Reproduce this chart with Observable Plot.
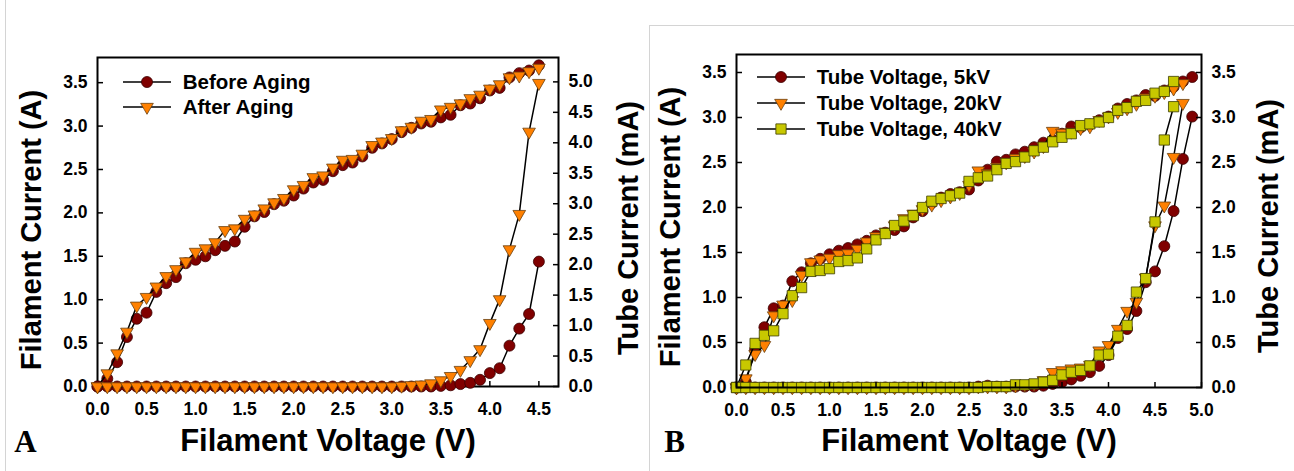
<!DOCTYPE html>
<html>
<head>
<meta charset="utf-8">
<script src="https://cdn.jsdelivr.net/npm/d3@7"></script>
<script src="https://cdn.jsdelivr.net/npm/@observablehq/plot@0.6"></script>
<style>
  html, body { margin: 0; padding: 0; background: #fff; }
  #root { position: relative; width: 1294px; height: 471px; overflow: hidden; background: #fff; }
  .layer { position: absolute; top: 0; }
  .legend-row { position: absolute; display: flex; align-items: center; font-family: "Liberation Sans", Arial, sans-serif; font-weight: bold; font-size: 20.5px; color: #000; white-space: nowrap; }
  .legend-row svg { display: block; }
</style>
</head>
<body>
<div id="root"></div>
<script>
// ---------------- DATA ----------------
// Panel A: filament voltage (V)
const voltageA = [0.0,0.1,0.2,0.3,0.4,0.5,0.6,0.7,0.8,0.9,1.0,1.1,1.2,1.3,1.4,1.5,1.6,1.7,1.8,1.9,
                  2.0,2.1,2.2,2.3,2.4,2.5,2.6,2.7,2.8,2.9,3.0,3.1,3.2,3.3,3.4,3.5,3.6,3.7,3.8,3.9,
                  4.0,4.1,4.2,4.3,4.4,4.5];
// Filament current (A)
const filamentBefore = [0,0.09,0.28,0.57,0.78,0.85,1.09,1.19,1.26,1.42,1.46,1.50,1.57,1.62,1.67,1.84,1.96,2.01,2.10,2.14,
                        2.20,2.28,2.35,2.38,2.48,2.55,2.58,2.65,2.75,2.80,2.85,2.93,2.98,3.03,3.05,3.10,3.13,3.24,3.26,3.32,
                        3.41,3.44,3.56,3.61,3.64,3.70];
const filamentAfter  = [0,0.15,0.38,0.63,0.93,1.03,1.15,1.27,1.35,1.44,1.55,1.59,1.66,1.80,1.82,1.93,1.98,2.05,2.12,2.17,
                        2.27,2.32,2.41,2.43,2.52,2.61,2.62,2.68,2.78,2.82,2.86,2.95,2.99,3.06,3.08,3.19,3.22,3.26,3.32,3.36,
                        3.43,3.48,3.56,3.58,3.63,3.67];
// Tube current (mA)
const tubeBefore = [0,0,0,0,0,0,0,0,0,0,0,0,0,0,0,0,0,0,0,0,
                    0,0,0,0,0,0,0,0,0,0,0,0,0,0,0,0.01,0.02,0.04,0.06,0.11,
                    0.22,0.30,0.67,0.95,1.19,2.05];
const tubeAfter  = [0,0,0,0,0,0,0,0,0,0,0,0,0,0,0,0,0,0,0,0,
                    0,0,0,0,0,0,0,0,0,0,0,0.01,0.02,0.03,0.05,0.10,0.17,0.27,0.43,0.61,
                    1.04,1.43,2.25,2.83,4.18,4.98];

// Panel B: filament voltage (V)
const voltageB = [0.0,0.1,0.2,0.3,0.4,0.5,0.6,0.7,0.8,0.9,1.0,1.1,1.2,1.3,1.4,1.5,1.6,1.7,1.8,1.9,
                  2.0,2.1,2.2,2.3,2.4,2.5,2.6,2.7,2.8,2.9,3.0,3.1,3.2,3.3,3.4,3.5,3.6,3.7,3.8,3.9,
                  4.0,4.1,4.2,4.3,4.4,4.5,4.6,4.7,4.8,4.9];
const filament5kV  = [0,0.06,0.42,0.67,0.88,0.91,1.18,1.28,1.38,1.43,1.48,1.52,1.55,1.59,1.63,1.69,1.72,1.75,1.79,1.89,
                      1.96,2.05,2.11,2.15,2.17,2.20,2.30,2.42,2.51,2.53,2.59,2.62,2.67,2.72,2.75,2.82,2.90,2.89,2.92,2.97,
                      3.01,3.10,3.15,3.19,3.25,3.24,3.30,3.34,3.40,3.45];
const filament20kV = [0,0.10,0.37,0.47,0.80,0.92,0.97,1.25,1.39,1.42,1.44,1.48,1.49,1.54,1.62,1.68,1.73,1.80,1.88,1.93,
                      1.98,2.03,2.08,2.12,2.16,2.25,2.41,2.38,2.45,2.50,2.55,2.57,2.62,2.68,2.85,2.83,2.84,2.88,2.90,2.97,
                      3.01,3.06,3.10,3.15,3.22,3.24,3.28,3.32,3.38];
const filament40kV = [0,0.25,0.49,0.58,0.63,0.82,1.02,1.11,1.29,1.30,1.32,1.40,1.41,1.44,1.54,1.64,1.71,1.80,1.85,1.91,
                      2.00,2.07,2.10,2.13,2.16,2.29,2.33,2.35,2.42,2.49,2.51,2.56,2.63,2.67,2.73,2.78,2.82,2.91,2.93,2.95,
                      3.00,3.08,3.11,3.18,3.19,3.27,3.29,3.40];
const tube5kV  = [0,0,0,0,0,0,0,0,0,0,0,0,0,0,0,0,0,0,0,0,
                  0,0,0,0,0,0,0.01,0.02,0.01,0.01,0.01,0.01,0.01,0.02,0.04,0.06,0.09,0.13,0.17,0.24,
                  0.36,0.55,0.65,0.85,1.17,1.29,1.57,1.96,2.54,3.01];
const tube20kV = [0,0,0,0,0,0,0,0,0,0,0,0,0,0,0,0,0,0,0,0,
                  0,0,0,0,0,0,0.01,0.01,0.01,0.01,0.02,0.03,0.04,0.08,0.17,0.19,0.21,0.22,0.25,0.41,
                  0.47,0.65,0.85,0.95,1.22,1.80,2.02,2.56,3.16];
const tube40kV = [0,0,0,0,0,0,0,0,0,0,0,0,0,0,0,0,0,0,0,0,
                  0,0,0,0,0,0,0,0.01,0.01,0.01,0.03,0.03,0.04,0.06,0.08,0.14,0.17,0.19,0.24,0.36,
                  0.37,0.57,0.69,1.06,1.21,1.84,2.75,3.12];

// Tick labels
const xTicksA = [0,0.5,1.0,1.5,2.0,2.5,3.0,3.5,4.0,4.5];
const yTicksLeftA = [0,0.5,1.0,1.5,2.0,2.5,3.0,3.5];
const yTicksRightA = [0,0.5,1.0,1.5,2.0,2.5,3.0,3.5,4.0,4.5,5.0];
const xTicksB = [0,0.5,1.0,1.5,2.0,2.5,3.0,3.5,4.0,4.5,5.0];
const yTicksB = [0,0.5,1.0,1.5,2.0,2.5,3.0,3.5];

// Legend labels
const legendA = ["Before Aging", "After Aging"];
const legendB = ["Tube Voltage, 5kV", "Tube Voltage, 20kV", "Tube Voltage, 40kV"];

// ---------------- STYLE ----------------
const FONT = '"Liberation Sans", Arial, Helvetica, sans-serif';
const SERIF = '"Liberation Serif", "Times New Roman", serif';
const MAROON = "#800000", ORANGE = "#ff8000", OLIVE = "#c8c800";
const triDown = {
  draw(ctx, size) {
    const h = Math.sqrt(size / (3 * Math.sqrt(3)));
    const w = h * Math.sqrt(3);
    ctx.moveTo(0, 2 * h);
    ctx.lineTo(w, -h);
    ctx.lineTo(-w, -h);
    ctx.closePath();
  }
};
const SYM = {
  circle:   {symbol: "circle", r: 5.5, fill: MAROON, stroke: "#3a0000"},
  triangle: {symbol: triDown, r: 4.7, fill: ORANGE, stroke: "#6a4010"},
  square:   {symbol: "square", r: 5.8, fill: OLIVE, stroke: "#3c3c00"}
};
const fmt = d3.format(".1f");
const zip = (xs, ys) => ys.map((y, i) => ({x: xs[i], y}));

function seriesMarks(data, sym) {
  return [
    Plot.line(data, {x: "x", y: "y", stroke: "black", strokeWidth: 1.5}),
    Plot.dot(data, {x: "x", y: "y", symbol: sym.symbol, r: sym.r, fill: sym.fill, stroke: sym.stroke, strokeWidth: 0.8})
  ];
}
const svgStyle = {background: "transparent", fontFamily: FONT, fontSize: "17.5px", fontWeight: "bold", color: "black", overflow: "visible"};
const titleStyle = {fontWeight: "bold", fontFamily: FONT, fill: "black", textAnchor: "middle", lineAnchor: "middle"};

const root = document.getElementById("root");
function place(el, left, top) {
  const wrap = document.createElement("div");
  wrap.className = "layer";
  wrap.style.left = left + "px";
  wrap.style.top = top + "px";
  wrap.appendChild(el);
  root.appendChild(wrap);
  return wrap;
}
function legend(left, items) {
  items.forEach((it) => {
    const row = document.createElement("div");
    row.className = "legend-row";
    row.style.left = left + "px";
    row.style.top = (it.cy - 12) + "px";
    row.style.height = "24px";
    const svg = d3.create("svg").attr("width", 60).attr("height", 24);
    svg.append("line").attr("x1", 0).attr("x2", 48).attr("y1", 12).attr("y2", 12).attr("stroke", "black").attr("stroke-width", 1.5);
    const size = Math.PI * it.sym.r * it.sym.r;
    const type = typeof it.sym.symbol === "string" ? (it.sym.symbol === "circle" ? d3.symbolCircle : d3.symbolSquare) : it.sym.symbol;
    svg.append("path").attr("transform", "translate(24,12)").attr("d", d3.symbol(type, size)())
      .attr("fill", it.sym.fill).attr("stroke", it.sym.stroke).attr("stroke-width", 0.8);
    row.appendChild(svg.node());
    const span = document.createElement("span");
    span.textContent = it.label;
    row.appendChild(span);
    root.appendChild(row);
  });
}

// grey panel borders
(function borders() {
  const a = document.createElement("div");
  Object.assign(a.style, {position: "absolute", left: "5px", top: "0px", width: "1px", height: "471px", background: "#d4d4d4"});
  root.appendChild(a);
  const b = document.createElement("div");
  Object.assign(b.style, {position: "absolute", left: "649px", top: "25px", width: "645px", height: "446px", borderLeft: "1px solid #d4d4d4", borderTop: "1px solid #d4d4d4", boxSizing: "border-box"});
  root.appendChild(b);
})();

// ---------------- PANEL A ----------------
const dimsA = {width: 645, height: 471, marginLeft: 97, marginRight: 87, marginTop: 57, marginBottom: 85};
const xA = {domain: [0, 4.70], label: null, axis: null};

const plotA = Plot.plot({
  ...dimsA,
  x: xA,
  y: {domain: [0, 3.79], label: null, axis: null},
  style: svgStyle,
  marks: [
    ...seriesMarks(zip(voltageA, filamentBefore), SYM.circle),
    ...seriesMarks(zip(voltageA, filamentAfter), SYM.triangle),
    Plot.axisX({ticks: xTicksA, tickFormat: fmt, tickSize: -5, tickPadding: 21, strokeWidth: 1.5, label: null}),
    Plot.axisY({anchor: "left", ticks: yTicksLeftA, tickFormat: fmt, tickSize: -6, tickPadding: 16, strokeWidth: 1.5, label: null}),
    Plot.frame({stroke: "black", strokeWidth: 2}),
    Plot.text(["Filament Current (A)"], {...titleStyle, frameAnchor: "left", dx: -66, dy: 8, rotate: -90, fontSize: 29}),
    Plot.text(["Tube Current (mA)"], {...titleStyle, frameAnchor: "right", dx: 70, dy: 6, rotate: -90, fontSize: 29}),
    Plot.text(["Filament Voltage (V)"], {...titleStyle, frameAnchor: "bottom", dy: 55, fontSize: 31}),
    Plot.text(["A"], {...titleStyle, frameAnchor: "bottom-left", dx: -72, dy: 56, fontSize: 31, fontFamily: SERIF})
  ]
});
place(plotA, 0, 0);

const plotA2 = Plot.plot({
  ...dimsA,
  x: xA,
  y: {domain: [0, 5.40], label: null, axis: null},
  style: svgStyle,
  marks: [
    ...seriesMarks(zip(voltageA, tubeBefore), SYM.circle),
    ...seriesMarks(zip(voltageA, tubeAfter), SYM.triangle),
    Plot.axisY({anchor: "right", ticks: yTicksRightA, tickFormat: fmt, tickSize: -6, tickPadding: 16, strokeWidth: 1.5, label: null})
  ]
});
place(plotA2, 0, 0);

legend(122.7, [
  {label: legendA[0], sym: SYM.circle, cy: 82.3},
  {label: legendA[1], sym: SYM.triangle, cy: 107.3}
]);

// ---------------- PANEL B ----------------
const plotB = Plot.plot({
  width: 644, height: 471, marginLeft: 86, marginRight: 93, marginTop: 54, marginBottom: 84,
  x: {domain: [0, 5.0], label: null, axis: null},
  y: {domain: [0, 3.70], label: null, axis: null},
  style: svgStyle,
  marks: [
    ...seriesMarks(zip(voltageB, filament5kV), SYM.circle),
    ...seriesMarks(zip(voltageB, tube5kV), SYM.circle),
    ...seriesMarks(zip(voltageB, filament20kV), SYM.triangle),
    ...seriesMarks(zip(voltageB, tube20kV), SYM.triangle),
    ...seriesMarks(zip(voltageB, filament40kV), SYM.square),
    ...seriesMarks(zip(voltageB, tube40kV), SYM.square),
    Plot.axisX({ticks: xTicksB, tickFormat: fmt, tickSize: -5, tickPadding: 21, strokeWidth: 1.5, label: null}),
    Plot.axisY({anchor: "left", ticks: yTicksB, tickFormat: fmt, tickSize: -6, tickPadding: 16, strokeWidth: 1.5, label: null}),
    Plot.axisY({anchor: "right", ticks: yTicksB, tickFormat: fmt, tickSize: -6, tickPadding: 16, strokeWidth: 1.5, label: null}),
    Plot.frame({stroke: "black", strokeWidth: 2}),
    Plot.text(["Filament Current (A)"], {...titleStyle, frameAnchor: "left", dx: -66, dy: 6, rotate: -90, fontSize: 29}),
    Plot.text(["Tube Current (mA)"], {...titleStyle, frameAnchor: "right", dx: 67, dy: 5, rotate: -90, fontSize: 29}),
    Plot.text(["Filament Voltage (V)"], {...titleStyle, frameAnchor: "bottom", dy: 54, fontSize: 31}),
    Plot.text(["B"], {...titleStyle, frameAnchor: "bottom-left", dx: -62, dy: 55, fontSize: 31, fontFamily: SERIF})
  ]
});
place(plotB, 650, 0);

legend(756.7, [
  {label: legendB[0], sym: SYM.circle, cy: 76.7},
  {label: legendB[1], sym: SYM.triangle, cy: 102.7},
  {label: legendB[2], sym: SYM.square, cy: 129}
]);
</script>
</body>
</html>
